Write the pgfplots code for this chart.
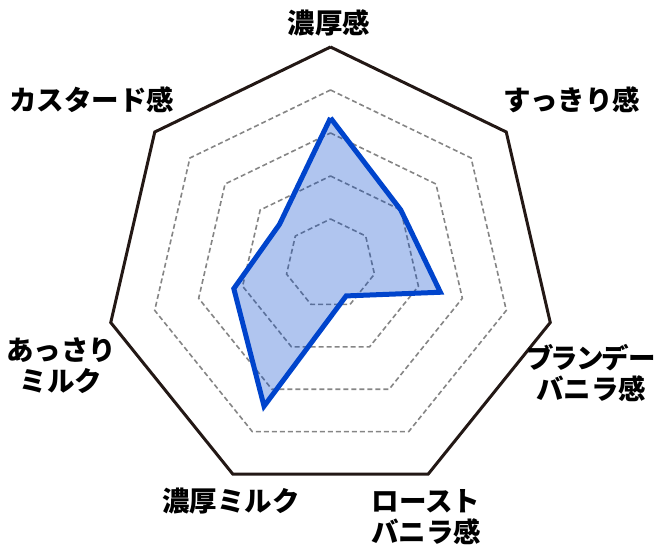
\documentclass[border=0pt]{standalone}
\usepackage{pgfplots}
\usepackage{pgfplotstable}
\pgfplotsset{compat=1.18}
\usepackage{fontspec}
\IfFontExistsTF{Noto Sans CJK JP Black}
  {\newfontfamily\cjk{Noto Sans CJK JP Black}\newfontfamily\cjkp{Noto Sans CJK JP Black}[RawFeature=+palt]}
  {\newfontfamily\cjk{Noto Sans CJK JP Bold}\newfontfamily\cjkp{Noto Sans CJK JP Bold}[RawFeature=+palt]}
\definecolor{ringblack}{HTML}{231815}
\definecolor{gridgray}{HTML}{858585}
\definecolor{lineblue}{HTML}{0044CC}

% direction of one unit on each spoke (in picture points) and the value
\pgfplotstableread{
dx dy v
0 43 3.35
35.15 26.0 2.0
43.95 -12.1 2.5
19.55 -42.4 0.8
-19.55 -42.4 3.4
-43.95 -12.1 2.2
-35.15 26.0 1.45
0 43 3.35
}\radar

\begin{document}
\begin{tikzpicture}
\begin{axis}[
  width=660pt, height=555pt, scale only axis,
  xmin=0, xmax=660, ymin=0, ymax=555,
  axis lines=none, clip=false,
]
\path (axis cs:0,0) rectangle (axis cs:660,555);
% dashed grid rings
\pgfplotsinvokeforeach{1,2,3,4}{
  \addplot[gridgray, line width=1.6pt, dash pattern=on 5pt off 3pt, line join=miter, mark=none]
    table[x expr={330.5+#1*\thisrow{dx}}, y expr={293+#1*\thisrow{dy}}] {\radar};
}
% outer ring
\addplot[ringblack, line width=3pt, line join=miter, mark=none]
  table[x expr={330.5+5*\thisrow{dx}}, y expr={293+5*\thisrow{dy}}] {\radar};
% data
\addplot[draw=none, fill=lineblue, fill opacity=0.31, mark=none]
  table[x expr={330.5+\thisrow{v}*\thisrow{dx}}, y expr={293+\thisrow{v}*\thisrow{dy}}] {\radar};
\addplot[lineblue, line width=5pt, line join=miter, miter limit=10, mark=none]
  table[x expr={330.5+\thisrow{v}*\thisrow{dx}}, y expr={293+\thisrow{v}*\thisrow{dy}}] {\radar};
% labels
\begin{scope}[every node/.style={font=\cjk\fontsize{27.5}{31}\selectfont, align=center, inner sep=0pt, text=black}]
\node at (axis cs:329,532.5) {濃厚感};
\node at (axis cs:572,455) {すっきり感};
\node at (axis cs:591,182) {{\cjkp ブランデー}\\バニラ感};
\node at (axis cs:426,38.3) {ロースト\\バニラ感};
\node at (axis cs:231,54) {濃厚ミルク};
\node at (axis cs:61,189) {あっさり\\ミルク};
\node at (axis cs:91.7,455) {カスタード感};
\end{scope}
\end{axis}
\end{tikzpicture}
\end{document}
